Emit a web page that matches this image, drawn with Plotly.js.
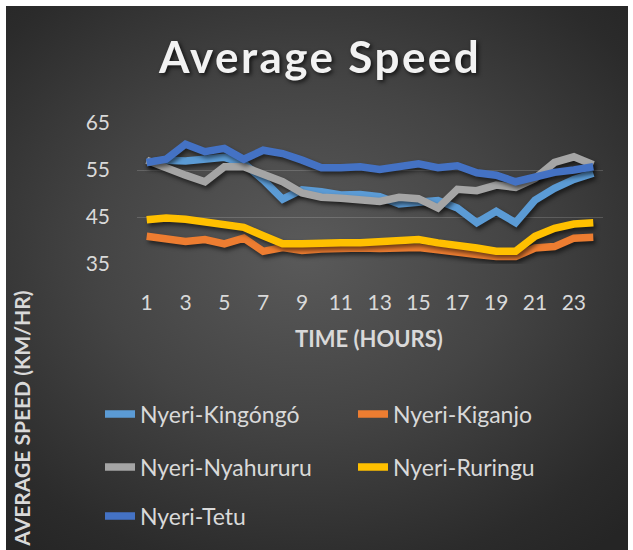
<!DOCTYPE html>
<html>
<head>
<meta charset="utf-8">
<script src="https://cdn.plot.ly/plotly-3.0.1.min.js"></script>
<style>
  html, body { margin: 0; padding: 0; background: #ffffff; }
  #frame {
    position: absolute; left: 6px; top: 6px; width: 622px; height: 544px;
    background: radial-gradient(ellipse 75% 70% at 48% 45%, #5a5a5a 0%, #444444 45%, #2b2b2b 85%, #252525 100%);
  }
  #chart { position: absolute; left: 0; top: 0; width: 633px; height: 550px; }
  #chart .scatterlayer .trace path.js-line { filter: drop-shadow(2px 3px 2px rgba(0,0,0,0.55)); }
  #chart .gtitle { filter: drop-shadow(2px 2px 2px rgba(0,0,0,0.7)); letter-spacing: 2.4px; }
</style>
</head>
<body>
<div id="frame"></div>
<div id="chart"></div>
<script>
const hours = [1,2,3,4,5,6,7,8,9,10,11,12,13,14,15,16,17,18,19,20,21,22,23,24];
const tickHours = [1,3,5,7,9,11,13,15,17,19,21,23];
const seriesNames = ["Nyeri-Kingóngó","Nyeri-Kiganjo","Nyeri-Nyahururu","Nyeri-Ruringu","Nyeri-Tetu"];
const kingongo  = [56.6,57.1,56.9,57.4,57.7,56.4,52.9,48.8,50.8,50.4,49.7,49.8,49.3,47.8,48.3,48.5,46.9,43.8,46.2,43.8,48.6,51.1,53.0,54.3];
const kiganjo   = [40.9,40.5,39.8,40.2,39.3,40.5,37.7,38.5,37.9,38.2,38.4,38.4,38.3,38.4,38.5,38.0,37.3,37.0,36.6,36.6,38.4,38.7,40.5,40.7];
const nyahururu = [57.1,55.4,53.9,52.5,55.7,55.7,53.9,52.5,50.1,49.2,49.0,48.6,48.3,49.2,48.9,46.9,50.9,50.6,51.8,51.3,53.2,56.6,57.8,56.1];
const ruringu   = [44.4,44.8,44.5,43.8,43.3,42.8,41.0,39.3,39.3,39.5,39.5,39.5,39.8,40.2,40.2,39.5,39.1,38.4,37.7,37.7,40.9,42.6,43.5,43.8];
const tetu      = [56.6,57.3,60.5,58.9,59.6,57.3,59.2,58.5,57.1,55.5,55.5,55.7,55.1,55.5,56.3,55.5,55.9,54.4,53.9,52.5,53.7,54.5,55.0,55.7];
const allSeries = [kingongo, kiganjo, nyahururu, ruringu, tetu];
const colors = ["#5B9BD5","#ED7D31","#A5A5A5","#FFC000","#4472C4"];
const legendIds = ["legend","legend2","legend3","legend4","legend5"];

const traces = allSeries.map((vals, i) => ({
  type: "scatter", mode: "lines", x: hours, y: vals, name: seriesNames[i],
  line: { color: colors[i], width: 7.5 },
  legend: legendIds[i], hoverinfo: "skip"
}));

const textCol = "#D9D9D9";
const fam = "Lato, 'Open Sans', sans-serif";
const legFont = { family: fam, size: 23, color: textCol };
function leg(xpx, ypx) {
  return { xref: "container", yref: "container", x: xpx / 633, y: 1 - ypx / 550,
           xanchor: "left", yanchor: "middle", bgcolor: "rgba(0,0,0,0)", borderwidth: 0,
           font: legFont, itemwidth: 30 };
}

const layout = {
  width: 633, height: 550,
  paper_bgcolor: "rgba(0,0,0,0)", plot_bgcolor: "rgba(0,0,0,0)",
  margin: { l: 137, r: 30, t: 123, b: 286, autoexpand: false },
  title: { text: "Average Speed", xref: "container", yref: "container", x: 320 / 633, xanchor: "center",
           y: 1 - 58 / 550, yanchor: "middle",
           font: { family: fam, size: 44, color: "#F2F2F2", weight: "bold" } },
  xaxis: { range: [0.5, 24.5], tickmode: "array", tickvals: tickHours, ticktext: tickHours.map(String),
           showgrid: false, zeroline: false, showline: false, ticks: "", automargin: false,
           ticklabelstandoff: 24,
           tickfont: { family: fam, size: 21, color: textCol } },
  yaxis: { range: [35, 65], tickmode: "array", tickvals: [35,45,55,65], showgrid: true, automargin: false,
           gridcolor: "rgba(255,255,255,0.16)", gridwidth: 1, zeroline: false, showline: false, ticks: "",
           ticklabelstandoff: 26,
           tickfont: { family: fam, size: 21, color: textCol } },
  showlegend: true,
  legend: leg(100, 414), legend2: leg(353, 414), legend3: leg(100, 467), legend4: leg(353, 467), legend5: leg(100, 516),
  annotations: [
    { text: "<b>TIME (HOURS)</b>", xref: "paper", yref: "paper", x: (369 - 137) / 466, y: (264 - 339) / 141.3,
      xanchor: "center", yanchor: "middle", showarrow: false,
      font: { family: fam, size: 22, color: textCol } },
    { text: "<b>AVERAGE SPEED (KM/HR)</b>", xref: "paper", yref: "paper", x: (22 - 137) / 466, y: (264 - 419) / 141.3,
      xanchor: "center", yanchor: "middle", showarrow: false, textangle: -90,
      font: { family: fam, size: 21, color: textCol } }
  ]
};

Plotly.newPlot("chart", traces, layout, { staticPlot: true, displayModeBar: false });
</script>
</body>
</html>
